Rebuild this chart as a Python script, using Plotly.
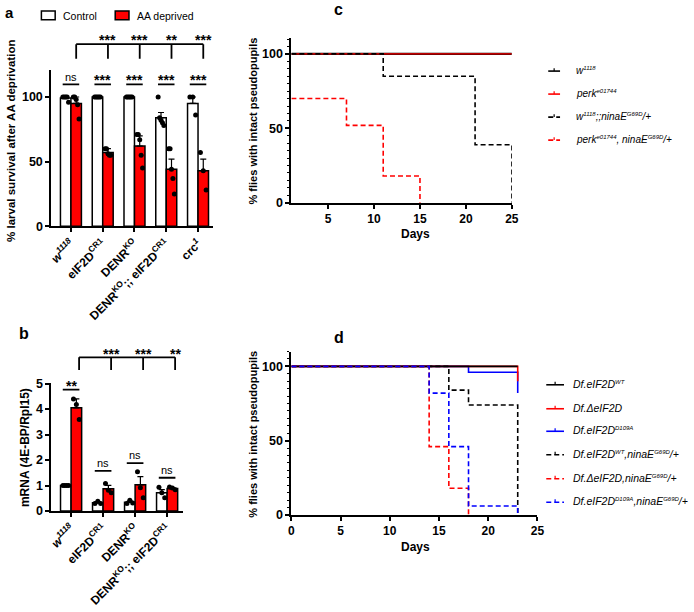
import numpy as np
import plotly.graph_objects as go

W, H = 694, 612
def px(x): return x / W
def py(y): return 1 - y / H

FONT = "Liberation Sans, Arial, sans-serif"

def ss(t, size=6):
    return '<sup><span style="font-size:%dpx">%s</span></sup>' % (size, t)

# ---------------- Panel a data ----------------
a_labels = ["<i>w</i><sup><i>1118</i></sup>", "eIF2D<sup>CR1</sup>", "DENR<sup>KO</sup>",
            "DENR<sup>KO</sup>;; eIF2D<sup>CR1</sup>", "crc<sup><i>1</i></sup>"]
a_ctrl_mean = [99.2, 100, 100, 84, 95]
a_ctrl_err = [0.8, 0, 0, 4, 5]
a_aa_mean = [95, 57, 62, 44, 43]
a_aa_err = [5, 3, 8, 8, 9]
a_ctrl_pts = [[100, 100, 100, 100, 96], [100, 100, 100, 100, 100], [100, 100, 100, 100, 100],
              [100, 84, 82, 80, 78], [100, 100, 86]]
a_aa_pts = [[100, 100, 98, 94, 83], [60, 60, 56, 55, 55], [71, 71, 67, 55, 45],
            [60, 60, 44, 37, 25], [57, 43, 28]]
a_pair_sig = ["ns", "***", "***", "***", "***"]
a_vs_wt_sig = ["***", "***", "**", "***"]

# ---------------- Panel b data ----------------
b_labels = ["<i>w</i><sup><i>1118</i></sup>", "eIF2D<sup>CR1</sup>", "DENR<sup>KO</sup>",
            "DENR<sup>KO</sup>;; eIF2D<sup>CR1</sup>"]
b_ctrl_mean = [1.0, 0.33, 0.34, 0.72]
b_ctrl_err = [0.01, 0.04, 0.05, 0.12]
b_aa_mean = [4.05, 0.87, 1.03, 0.88]
b_aa_err = [0.35, 0.14, 0.32, 0.04]
b_ctrl_pts = [[1, 1, 1, 1], [0.3, 0.38, 0.3], [0.3, 0.42, 0.32], [0.93, 0.72, 0.52]]
b_aa_pts = [[4.4, 4.18, 3.59], [1.08, 0.82, 0.72], [1.54, 0.91, 0.52], [0.94, 0.9, 0.84]]
b_pair_sig = ["**", "ns", "ns", "ns"]
b_vs_wt_sig = ["***", "***", "**"]

# ---------------- Panel c data ----------------
c_names = ["<i>w" + ss("1118") + "</i>", "<i>perk" + ss("e01744") + "</i>",
           "<i>w" + ss("1118") + ";;ninaE" + ss("G69D") + "/+</i>",
           "<i>perk" + ss("e01744") + ", ninaE" + ss("G69D") + "/+</i>"]
c_colors = ["black", "red", "black", "red"]
c_dashes = ["solid", "solid", "dash", "dash"]
c_days = [[1, 25], [1, 25], [1, 11, 21, 25], [1, 7, 11, 15]]
c_surv = [[100, 100], [100, 100], [100, 85, 39, 0], [70, 52, 18, 0]]

# ---------------- Panel d data ----------------
d_names = ["<i>Df.eIF2D" + ss("WT") + "</i>", "<i>Df.ΔeIF2D</i>", "<i>Df.eIF2D" + ss("D109A") + "</i>",
           "<i>Df.eIF2D" + ss("WT") + ",ninaE" + ss("G69D") + "/+</i>",
           "<i>Df.ΔeIF2D,ninaE" + ss("G69D") + "/+</i>",
           "<i>Df.eIF2D" + ss("D109A") + ",ninaE" + ss("G69D") + "/+</i>"]
d_colors = ["black", "red", "blue", "black", "red", "blue"]
d_dashes = ["solid", "solid", "solid", "dash", "dash", "dash"]
d_days = [[0, 23], [0, 23, 23], [0, 18, 23, 23], [0, 16, 18, 23], [0, 14, 16, 18], [0, 14, 16, 18, 23]]
d_surv = [[100, 100], [100, 100, 90], [100, 96, 96, 82], [100, 84, 74, 0], [100, 46, 18, 0],
          [100, 82, 46, 6, 0]]

RED = "#FF0000"
BW = 0.33
DASH = "5px,3px"

fig = go.Figure()

def bar_panel(xa, ya, ctrl_mean, ctrl_err, aa_mean, aa_err, ctrl_pts, aa_pts):
    n = len(ctrl_mean)
    xs = list(range(n))
    for mean, err, color, off in [(ctrl_mean, ctrl_err, "white", -BW), (aa_mean, aa_err, RED, 0)]:
        fig.add_trace(go.Bar(x=xs, y=mean, width=BW, offset=off, xaxis=xa, yaxis=ya,
                             marker=dict(color=color, line=dict(color="black", width=1.5)),
                             error_y=dict(type="data", array=err, arrayminus=[0] * n, symmetric=False,
                                          color="black", thickness=1.2, width=3),
                             hoverinfo="skip"))
    for pts, shift in [(ctrl_pts, -BW / 2), (aa_pts, BW / 2)]:
        dx, dy = [], []
        for i, p in enumerate(pts):
            offs = np.linspace(-0.09, 0.09, len(p))
            dx += list(i + shift + offs)
            dy += list(p)
        fig.add_trace(go.Scatter(x=dx, y=dy, mode="markers", xaxis=xa, yaxis=ya,
                                 marker=dict(color="black", size=5), hoverinfo="skip"))

bar_panel("x", "y", a_ctrl_mean, a_ctrl_err, a_aa_mean, a_aa_err, a_ctrl_pts, a_aa_pts)
bar_panel("x2", "y2", b_ctrl_mean, b_ctrl_err, b_aa_mean, b_aa_err, b_ctrl_pts, b_aa_pts)

c_widths = [2.2, 1.3, 1.6, 1.6]
for i in [0, 1, 3, 2]:
    fig.add_trace(go.Scatter(x=c_days[i], y=c_surv[i], mode="lines", line_shape="hv",
                             xaxis="x3", yaxis="y3",
                             line=dict(color=c_colors[i], width=c_widths[i],
                                       dash=DASH if c_dashes[i] == "dash" else "solid"),
                             hoverinfo="skip"))
for i in [2, 1, 0, 3, 4, 5]:
    fig.add_trace(go.Scatter(x=d_days[i], y=d_surv[i], mode="lines", line_shape="hv",
                             xaxis="x4", yaxis="y4",
                             line=dict(color=d_colors[i], width=1.6,
                                       dash=DASH if d_dashes[i] == "dash" else "solid"),
                             hoverinfo="skip"))

def axis_common(size=12.5):
    return dict(showline=True, linecolor="black", linewidth=1.8, ticks="outside", ticklen=4,
                tickwidth=1.5, tickcolor="black", showgrid=False, zeroline=False,
                tickfont=dict(family=FONT, size=size, color="black", weight="bold"))

minor = dict(dtick=5, tick0=0, ticks="outside", ticklen=2.5, tickwidth=1, tickcolor="black")

fig.update_layout(
    width=W, height=H, margin=dict(l=0, r=0, t=0, b=0),
    paper_bgcolor="white", plot_bgcolor="white", showlegend=False, barmode="overlay",
    xaxis=dict(domain=[px(48), px(212)], anchor="y", range=[-0.62, 4.46],
               tickvals=list(range(5)), ticktext=a_labels, tickangle=-45, **axis_common(12)),
    yaxis=dict(domain=[py(225), py(65)], anchor="x", range=[0, 121.2], tickvals=[0, 50, 100],
               **axis_common()),
    xaxis2=dict(domain=[px(48), px(182)], anchor="y2", range=[-0.62, 3.5],
                tickvals=list(range(4)), ticktext=b_labels, tickangle=-45, **axis_common(12)),
    yaxis2=dict(domain=[py(516), py(385)], anchor="x2", range=[0, 5.03], tickvals=[0, 1, 2, 3, 4, 5],
                **axis_common()),
    xaxis3=dict(domain=[px(292), px(516)], anchor="y3", range=[1, 25],
                tickvals=[5, 10, 15, 20, 25], **axis_common(12)),
    yaxis3=dict(domain=[py(201), py(33)], anchor="x3", range=[0, 110.5], tickvals=[0, 50, 100],
                minor=minor, **axis_common()),
    xaxis4=dict(domain=[px(292), px(542)], anchor="y4", range=[0, 25],
                tickvals=[0, 5, 10, 15, 20, 25], **axis_common(12)),
    yaxis4=dict(domain=[py(520), py(353)], anchor="x4", range=[0, 110], tickvals=[0, 50, 100],
                minor=minor, **axis_common()),
)

shapes, annots = [], []

def line(xref, x0, x1, y0, y1, yref="paper", color="black", width=1.4, dash="solid"):
    shapes.append(dict(type="line", xref=xref, yref=yref, x0=x0, x1=x1, y0=y0, y1=y1,
                       line=dict(color=color, width=width, dash=dash)))

def text(x, y, s, size=9, xref="paper", yref="paper", bold=False, xanchor="center",
         yanchor="middle", angle=0, color="black"):
    annots.append(dict(x=x, y=y, xref=xref, yref=yref, text=s, showarrow=False,
                       xanchor=xanchor, yanchor=yanchor, textangle=angle, borderpad=0,
                       font=dict(family=FONT, size=size, color=color,
                                 weight="bold" if bold else "normal")))

# Panel a significance
for i, s in enumerate(a_pair_sig):
    line("x", i - 0.26, i + 0.26, py(80), py(80), width=1.8)
    if s == "ns":
        text(i, py(73), s, size=11, xref="x")
    else:
        text(i, py(76), s, size=14, xref="x", bold=True)
line("x", BW / 2, 4 + BW / 2, py(39), py(39), width=1.8)
for i in range(5):
    line("x", i + BW / 2, i + BW / 2, py(39), py(54), width=1.8)
for i, s in enumerate(a_vs_wt_sig):
    text(i + 1 + BW / 2, py(35), s, size=14, xref="x", bold=True)

# Panel b significance
b_pair_y = [(392, 385), (475, 467), (467, 459), (482, 474)]
for i, s in enumerate(b_pair_sig):
    by, ty = b_pair_y[i]
    line("x2", i - 0.26, i + 0.26, py(by), py(by), width=1.8)
    if s == "ns":
        text(i, py(ty), s, size=11, xref="x2")
    else:
        text(i, py(ty + 3), s, size=14, xref="x2", bold=True)
line("x2", 0.25, 3.25, py(359), py(359), width=1.8)
for i in range(4):
    line("x2", i + 0.25, i + 0.25, py(359), py(372), width=1.8)
for i, s in enumerate(b_vs_wt_sig):
    text(i + 1.25, py(356), s, size=14, xref="x2", bold=True)

# Panel a legend
shapes.append(dict(type="rect", xref="paper", yref="paper", x0=px(38), x1=px(52), y0=py(14), y1=py(5),
                   line=dict(color="black", width=1.5), fillcolor="white"))
text(px(59), py(10), "Control", size=10.5, xanchor="left")
shapes.append(dict(type="rect", xref="paper", yref="paper", x0=px(113), x1=px(127), y0=py(14), y1=py(5),
                   line=dict(color="black", width=1.5), fillcolor=RED))
text(px(134), py(10), "AA deprived", size=10.5, xanchor="left")

# Panel c legend
c_leg_y = [66.5, 90, 113.5, 137]
for i, nm in enumerate(c_names):
    yy = c_leg_y[i]
    line("paper", px(553), px(565), py(yy), py(yy), color=c_colors[i], width=1.6,
         dash=DASH if c_dashes[i] == "dash" else "solid")
    line("paper", px(559), px(559), py(yy), py(yy - 3), color=c_colors[i], width=1.2)
    text(px(580), py(yy - 1), nm, size=10, xanchor="left")

# Panel d legend
d_leg_y = [387, 411.5, 434.5, 458.5, 483, 507]
for i, nm in enumerate(d_names):
    yy = d_leg_y[i]
    line("paper", px(551), px(569), py(yy), py(yy), color=d_colors[i], width=1.6,
         dash=DASH if d_dashes[i] == "dash" else "solid")
    line("paper", px(560), px(560), py(yy), py(yy - 3), color=d_colors[i], width=1.2)
    text(px(577), py(yy - 1), nm, size=10.5, xanchor="left")

# Axis titles
text(px(7), py(138), "% larval survival after AA deprivation", size=11.5, bold=True, angle=-90)
text(px(22), py(451), "mRNA (4E-BP/Rpl15)", size=12, bold=True, angle=-90)
text(px(253), py(117), "% flies with intact pseudopupils", size=11, bold=True, angle=-90)
text(px(253), py(437), "% flies with intact pseudopupils", size=11, bold=True, angle=-90)
text(px(418), py(233), "Days", size=12, bold=True)
text(px(418), py(553), "Days", size=12, bold=True)

# Panel letters
text(px(0.5), py(-3), "a", size=15, bold=True, xanchor="left", yanchor="top")
text(px(14), py(325), "b", size=16, bold=True, xanchor="left", yanchor="top")
text(px(334), py(-6), "c", size=16, bold=True, xanchor="left", yanchor="top")
text(px(334), py(329), "d", size=16, bold=True, xanchor="left", yanchor="top")

fig.update_layout(shapes=shapes, annotations=annots)
fig.write_html("out.html", config={"displayModeBar": False},
               post_script="document.body.style.margin='0px';document.body.style.overflow='hidden';")
